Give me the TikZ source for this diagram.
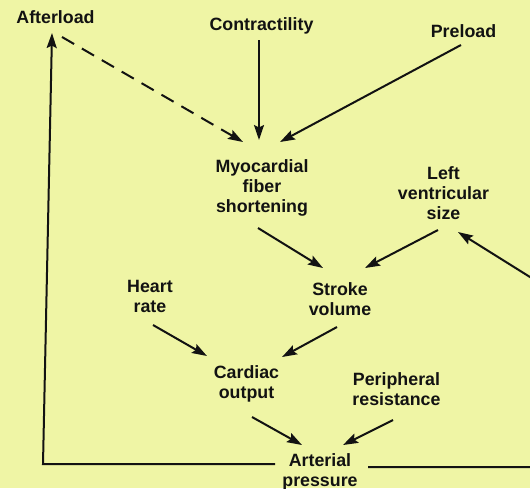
\documentclass[tikz,border=0pt]{standalone}
\usepackage{fontspec}
\setmainfont{Liberation Sans}
\usetikzlibrary{arrows.meta,calc}
\definecolor{paper}{RGB}{239,245,165}
\definecolor{ink}{RGB}{18,18,18}
\begin{document}
\begin{tikzpicture}[x=1pt,y=-1pt,
  lbl/.style={font=\fontsize{17.8}{20}\selectfont\bfseries, align=center, inner sep=0pt, text=ink},
  arr/.style={line width=2pt, draw=ink, -{Stealth[length=15pt,width=10pt,inset=2.5pt]}},
  dasharr/.style={arr, dash pattern=on 14pt off 9pt},
  fb/.style={arr, line join=miter}]
\fill[paper] (0,0) rectangle (530,488);
\clip (0,0) rectangle (530,488);

\node[lbl] (aft) at (55.5,17.6) {Afterload};
\node[lbl] (con) at (261.5,25.5) {Contractility};
\node[lbl] (pre) at (463.5,30.7) {Preload};
\node[lbl] (myo) at (262,187.5) {Myocardial\\fiber\\shortening};
\node[lbl] (lvs) at (443.5,193.6) {Left\\ventricular\\size};
\node[lbl] (sv) at (340,299) {Stroke\\volume};
\node[lbl] (hr) at (150,296) {Heart\\rate};
\node[lbl] (co) at (246.5,383.5) {Cardiac\\output};
\node[lbl] (pr) at (396.5,389.6) {Peripheral\\resistance};
\node[lbl] (ap) at (320,472) {Arterial\\pressure};

\coordinate (cL) at (43,464);
\coordinate (cR1) at (545,467);
\coordinate (cR2) at (545,286.4);

\draw[dasharr] ($(aft.center)+(6.5,19.4)$) -- ($(myo.center)+(-19,-45.5)$);
\draw[arr] ($(con.center)+(-2.5,14.5)$) -- ($(con.center)+(-2.5,114.5)$);
\draw[arr] ($(pre.center)+(-2.5,14.3)$) -- ($(myo.center)+(18,-45.5)$);
\draw[arr] ($(myo.center)+(-4,40.5)$) -- ($(sv.center)+(-17,-31)$);
\draw[arr] ($(lvs.center)+(-5.5,36.4)$) -- ($(sv.center)+(25,-31)$);
\draw[arr] ($(sv.center)+(-3,28)$) -- ($(co.center)+(35.5,-26.5)$);
\draw[arr] ($(hr.center)+(3,29)$) -- ($(co.center)+(-39.5,-27.5)$);
\draw[arr] ($(co.center)+(5.5,33.5)$) -- ($(ap.center)+(-18,-27)$);
\draw[arr] ($(pr.center)+(-3.5,30.4)$) -- ($(ap.center)+(23,-27)$);
\draw[fb] ($(ap.center)+(-45,-8)$) -- (cL) -- ($(aft.center)+(-3.5,15.4)$);
\draw[fb] ($(ap.center)+(48,-5)$) -- (cR1) -- (cR2) -- ($(lvs.center)+(14.5,38.4)$);
\end{tikzpicture}
\end{document}
